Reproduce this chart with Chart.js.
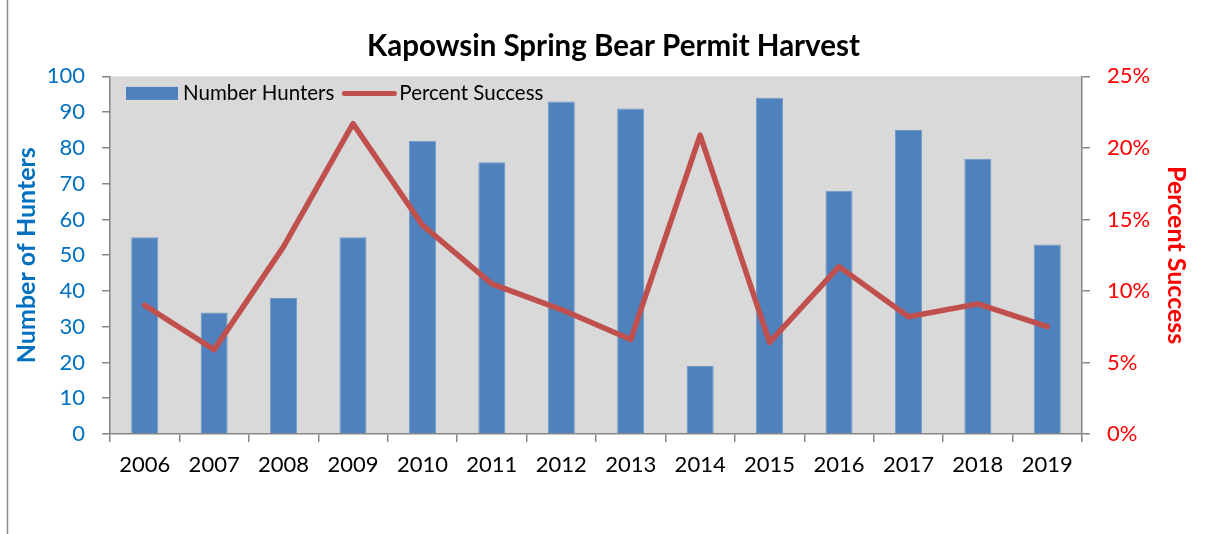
<!DOCTYPE html>
<html>
<head>
<meta charset="utf-8">
<title>Kapowsin Spring Bear Permit Harvest</title>
<script src="https://cdn.jsdelivr.net/npm/chart.js@4.4.1/dist/chart.umd.min.js"></script>
<style>
  html, body { margin: 0; padding: 0; background: #fff; }
  #wrap { width: 1217px; height: 534px; position: relative; }
</style>
</head>
<body>
<div id="wrap"><canvas id="harvest" width="1217" height="534"></canvas></div>
<script>
// Season data
const years = ['2006', '2007', '2008', '2009', '2010', '2011', '2012', '2013', '2014', '2015', '2016', '2017', '2018', '2019'];
const hunters = [55, 34, 38, 55, 82, 76, 93, 91, 19, 94, 68, 85, 77, 53];
const successPct = [9.0, 5.9, 13.1, 21.7, 14.6, 10.5, 8.7, 6.6, 20.9, 6.4, 11.7, 8.2, 9.1, 7.5];

const BLUE = '#4F81BD';
const RED = '#C0504D';
const AXIS = '#868686';

Chart.defaults.font.family = 'Lato, "Liberation Sans", sans-serif';

// white page, left frame line, grey plot area
const plotBackground = {
  id: 'plotBackground',
  beforeDraw(chart) {
    const { ctx, chartArea: a } = chart;
    ctx.save();
    ctx.fillStyle = '#fff';
    ctx.fillRect(0, 0, chart.width, chart.height);
    ctx.strokeStyle = '#8c8c8c';
    ctx.lineWidth = 1.5;
    ctx.beginPath();
    ctx.moveTo(7.5, 0);
    ctx.lineTo(7.5, chart.height);
    ctx.stroke();
    ctx.fillStyle = '#D9D9D9';
    ctx.fillRect(a.left, a.top, a.right - a.left, a.bottom - a.top);
    ctx.restore();
  }
};

// legend drawn inside the plot, top left
const innerLegend = {
  id: 'innerLegend',
  afterDraw(chart) {
    const { ctx, chartArea: a } = chart;
    const y = a.top + 17;
    let x = a.left + 16;
    ctx.save();
    ctx.font = '20.5px Lato, sans-serif';
    ctx.textBaseline = 'middle';
    chart.data.datasets.forEach(ds => {
      if (ds.type === 'bar') {
        ctx.fillStyle = ds.backgroundColor;
        ctx.fillRect(x, y - 6.5, 52, 13);
      } else {
        ctx.strokeStyle = ds.borderColor;
        ctx.lineWidth = 5;
        ctx.lineCap = 'round';
        ctx.beginPath();
        ctx.moveTo(x + 2, y);
        ctx.lineTo(x + 52, y);
        ctx.stroke();
      }
      x += 57;
      ctx.fillStyle = '#000';
      ctx.fillText(ds.label, x, y);
      x += ctx.measureText(ds.label).width + 8;
    });
    ctx.restore();
  }
};

new Chart(document.getElementById('harvest'), {
  data: {
    labels: years,
    datasets: [
      {
        type: 'bar',
        label: 'Number Hunters',
        data: hunters,
        yAxisID: 'y',
        backgroundColor: BLUE,
        borderColor: '#6f98c9',
        borderWidth: 1,
        categoryPercentage: 1,
        barPercentage: 0.39,
        order: 2
      },
      {
        type: 'line',
        label: 'Percent Success',
        data: successPct,
        yAxisID: 'y1',
        borderColor: RED,
        borderWidth: 5.5,
        pointRadius: 0,
        tension: 0,
        borderCapStyle: 'round',
        borderJoinStyle: 'round',
        order: 1
      }
    ]
  },
  options: {
    responsive: false,
    animation: false,
    layout: { padding: { left: 10, right: 0, top: 0, bottom: 0 } },
    plugins: {
      legend: { display: false },
      tooltip: { enabled: false },
      title: {
        display: true,
        text: 'Kapowsin Spring Bear Permit Harvest',
        color: '#000',
        font: { size: 29.5, weight: 'bold' },
        padding: { top: 29, bottom: 12 }
      }
    },
    scales: {
      x: {
        offset: true,
        afterFit: s => { s.height = 100; },
        grid: { offset: true, drawOnChartArea: false, tickLength: 8, color: AXIS, lineWidth: 1.5 },
        border: { color: AXIS, width: 1.5 },
        ticks: { color: '#000', font: { size: 22 }, padding: 10, maxRotation: 0, autoSkip: false }
      },
      y: {
        position: 'left',
        min: 0,
        max: 100,
        afterFit: s => { s.width = 100; },
        grid: { drawOnChartArea: false, tickLength: 8, color: AXIS, lineWidth: 1.5 },
        border: { color: AXIS, width: 1.5 },
        ticks: { stepSize: 10, color: '#0070C0', font: { size: 22 }, padding: 17 },
        title: {
          display: true,
          text: 'Number of Hunters',
          color: '#0070C0',
          font: { size: 25, weight: 'bold' },
          padding: { top: 2, bottom: 0 }
        }
      },
      y1: {
        position: 'right',
        min: 0,
        max: 25,
        afterFit: s => { s.width = 135; },
        grid: { drawOnChartArea: false, tickLength: 8, color: AXIS, lineWidth: 1.5 },
        border: { color: AXIS, width: 1.5 },
        ticks: { stepSize: 5, color: '#FF0000', font: { size: 22 }, padding: 17, callback: v => v + '%' },
        title: {
          display: true,
          text: 'Percent Success',
          color: '#FF0000',
          font: { size: 25, weight: 'bold' },
          padding: { top: 26, bottom: 0 }
        }
      }
    }
  },
  plugins: [plotBackground, innerLegend]
});
</script>
</body>
</html>
